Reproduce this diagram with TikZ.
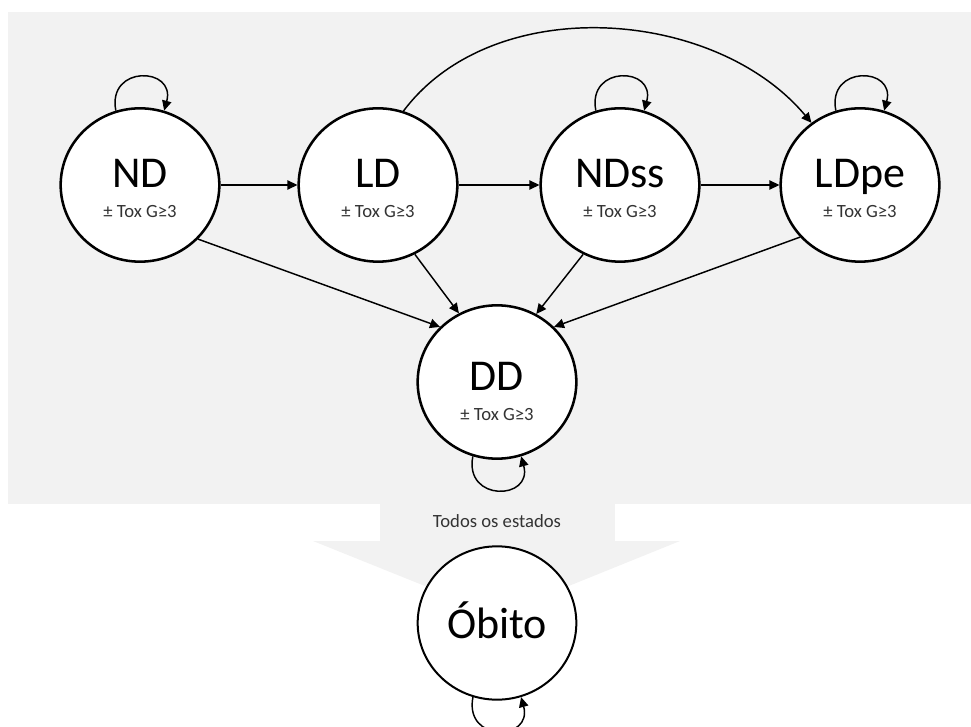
\documentclass[tikz,border=0pt]{standalone}
\usepackage{fontspec}
\setmainfont{Carlito}
\usetikzlibrary{shapes.geometric,arrows.meta}
\definecolor{fundo}{RGB}{242,242,242}
\tikzset{
	estado/.style={ellipse,draw,line width=1.9pt,fill=white,minimum width=119pt,minimum height=115pt,inner sep=0pt},
	nome/.style={anchor=base,inner sep=0.75pt,font=\fontsize{33}{40}\selectfont},
	tox/.style={anchor=base,inner sep=0.75pt,text=black!80,font=\fontsize{14}{17}\selectfont},
	seta/.style={line width=1.1pt,-{Triangle[length=7.5pt,width=7pt]}},
}

\begin{document}
\begin{tikzpicture}[x=0.75pt,y=0.75pt,yscale=-1,xscale=1]
			\useasboundingbox (0,0) rectangle (971,727);
			\clip (0,0) rectangle (971,727);

			%Shape: Rectangle (fundo)
			\fill [fundo] (8,12) rectangle (971,504);
			%Shape: Arrow down
			\fill [fundo] (380,503) rectangle (615,541);
			\fill [fundo] (313,541) -- (680,541) -- (497,615) -- cycle;

			%Shape: Ellipse
			\node [estado] (nd) at (140,185) {};
			%Shape: Ellipse
			\node [estado] (ld) at (378,185) {};
			%Shape: Ellipse
			\node [estado] (ndss) at (620,185) {};
			%Shape: Ellipse
			\node [estado] (ldpe) at (860,185) {};
			%Shape: Ellipse
			\node [estado] (dd) at (497,382) {};
			%Shape: Ellipse
			\node [estado,line width=1.5pt] (obito) at (497,623) {};

			%Straight Lines
			\draw [seta] (nd) -- (ld);
			\draw [seta] (ld) -- (ndss);
			\draw [seta] (ndss) -- (ldpe);
			\draw [seta] (nd.-43) -- (dd.136);
			\draw [seta] (ld.-62) -- (dd.119);
			\draw [seta] (ndss.-118) -- (dd.60);
			\draw [seta] (ldpe.-139) -- (dd.44);
			%Curve Lines
			\draw [seta] (ld.71) .. controls +(90,-120) and +(-96,-115) .. (ldpe.128);
			\draw [seta] (nd.108) .. controls +(-9,-46) and +(12,-44) .. (nd.72);
			\draw [seta] (ndss.108) .. controls +(-9,-46) and +(12,-44) .. (ndss.72);
			\draw [seta] (ldpe.108) .. controls +(-9,-46) and +(12,-44) .. (ldpe.72);
			\draw [seta] (dd.-108) .. controls +(-9,46) and +(12,44) .. (dd.-72);
			\draw [seta] (obito.-108) .. controls +(-9,46) and +(12,44) .. (obito.-72);

			% Text Node
			\node [nome] (nd-nome) at (140,188) {ND};
			\node [tox] (nd-tox) at (140,218) {± Tox G≥3};
			% Text Node
			\node [nome] (ld-nome) at (378,188) {LD};
			\node [tox] (ld-tox) at (378,218) {± Tox G≥3};
			% Text Node
			\node [nome] (ndss-nome) at (620,188) {NDss};
			\node [tox] (ndss-tox) at (620,218) {± Tox G≥3};
			% Text Node
			\node [nome] (ldpe-nome) at (860,188) {LDpe};
			\node [tox] (ldpe-tox) at (860,218) {± Tox G≥3};
			% Text Node
			\node [nome] (dd-nome) at (497,390) {DD};
			\node [tox] (dd-tox) at (497,420) {± Tox G≥3};
			% Text Node
			\node [nome] (obito-nome) at (497,638) {Óbito};
			\node [tox] (todos) at (497,527) {Todos os estados};

\end{tikzpicture}
\end{document}
